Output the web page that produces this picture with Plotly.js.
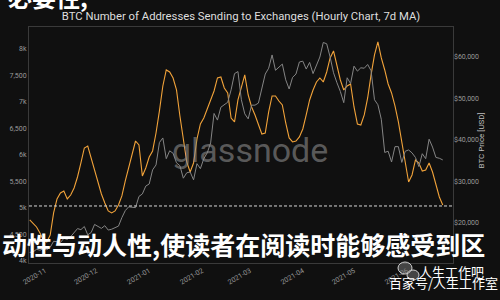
<!DOCTYPE html>
<html>
<head>
<meta charset="utf-8">
<script src="https://cdn.plot.ly/plotly-3.0.1.min.js"></script>
<style>html,body{margin:0;padding:0;background:#101010;}#chart{width:500px;height:300px;}</style>
</head>
<body>
<div id="chart"></div>
<script>
const dates = ["2020-10-23","2020-10-25","2020-10-27","2020-10-29","2020-10-31","2020-11-02","2020-11-04","2020-11-06","2020-11-08","2020-11-10","2020-11-12","2020-11-14","2020-11-16","2020-11-18","2020-11-20","2020-11-22","2020-11-24","2020-11-26","2020-11-28","2020-11-30","2020-12-02","2020-12-04","2020-12-06","2020-12-08","2020-12-10","2020-12-12","2020-12-14","2020-12-16","2020-12-18","2020-12-20","2020-12-22","2020-12-24","2020-12-26","2020-12-28","2020-12-30","2021-01-01","2021-01-03","2021-01-05","2021-01-07","2021-01-09","2021-01-11","2021-01-13","2021-01-15","2021-01-17","2021-01-19","2021-01-21","2021-01-23","2021-01-25","2021-01-27","2021-01-29","2021-01-31","2021-02-02","2021-02-04","2021-02-06","2021-02-08","2021-02-10","2021-02-12","2021-02-14","2021-02-16","2021-02-18","2021-02-20","2021-02-22","2021-02-24","2021-02-26","2021-02-28","2021-03-02","2021-03-04","2021-03-06","2021-03-08","2021-03-10","2021-03-12","2021-03-14","2021-03-16","2021-03-18","2021-03-20","2021-03-22","2021-03-24","2021-03-26","2021-03-28","2021-03-30","2021-04-01","2021-04-03","2021-04-05","2021-04-07","2021-04-09","2021-04-11","2021-04-13","2021-04-15","2021-04-17","2021-04-19","2021-04-21","2021-04-23","2021-04-25","2021-04-27","2021-04-29","2021-05-01","2021-05-03","2021-05-05","2021-05-07","2021-05-09","2021-05-11","2021-05-13","2021-05-15","2021-05-17","2021-05-19","2021-05-21","2021-05-23","2021-05-25","2021-05-27","2021-05-29","2021-05-31","2021-06-02","2021-06-04","2021-06-06","2021-06-08","2021-06-10","2021-06-12","2021-06-14","2021-06-16","2021-06-18","2021-06-20","2021-06-22"];

const addresses = [4774,4717,4642,4528,4396,4359,4491,4906,5170,5283,5321,5170,5245,5378,5585,5849,6132,6170,5944,5698,5472,5264,5094,4944,4906,4944,5057,5227,5510,5774,6038,6264,6189,5604,5755,5962,6076,6415,6831,7302,7604,7566,7453,7227,6736,6283,5868,5679,5849,6302,6585,6698,6868,7038,7208,7453,7472,7265,7170,6698,6623,7038,7302,7510,7132,6906,6755,6585,6396,6415,6812,7114,7114,7019,6944,6604,6321,6246,6264,6340,6491,6755,7038,7227,7378,7453,7378,7566,7831,7963,7699,7415,7227,7302,7340,6906,6585,6566,6755,7076,7510,7887,8133,7831,7604,7340,7170,6925,6623,6264,5887,5491,5623,5906,5849,5698,5717,5849,5679,5453,5208,5057];

const btcPrice = [12900,13050,13650,13450,13800,13550,14150,15600,15480,15300,16300,16050,16700,17800,18650,18400,19150,17150,17700,19650,19200,18700,19350,18300,18500,18800,19250,21300,23000,23900,23800,23700,26400,27000,28900,29400,32800,34000,39400,40500,35500,37400,36800,34500,33800,30800,32100,32300,30400,34300,33100,35500,36900,39300,46400,44800,47900,48600,49100,52100,56000,56500,49700,46300,45100,48400,48400,48900,52300,55900,57300,60500,56800,57600,58300,54500,52300,55100,55900,58800,59000,57100,58700,56000,58100,60000,63500,63200,60000,56200,53800,51700,49000,55000,53600,57800,56600,57400,57300,58200,56700,49700,48500,45000,37000,37300,34700,38400,38400,34600,37300,37600,36900,35800,33600,36700,35500,40200,38300,35800,35600,35200];

const leftTickVals = [4000,4500,5000,5500,6000,6500,7000,7500,8000];
const leftTickText = ["4k","4,500","5k","5,500","6k","6,500","7k","7,500","8k"];
const rightTickVals = [20000,30000,40000,50000,60000];
const rightTickText = ["$20,000","$30,000","$40,000","$50,000","$60,000"];
const referenceLevel = 5038;

const titleText = "BTC Number of Addresses Sending to Exchanges (Hourly Chart, 7d MA)";
const rightTitle = "BTC Price [USD]";
const overlayTop = "必要性,";
const overlayBottom = "动性与动人性,使读者在阅读时能够感受到区";
const brandLine1 = "人生工作吧";
const brandLine2 = "百家号/人生工作室";

const traces = [
  {x: dates, y: btcPrice, yaxis: 'y2', type: 'scatter', mode: 'lines',
   line: {color: '#858585', width: 1}, hoverinfo: 'skip'},
  {x: dates, y: addresses, yaxis: 'y', type: 'scatter', mode: 'lines',
   line: {color: '#f2a33a', width: 1.1}, hoverinfo: 'skip'}
];

const font = 'Roboto, "Noto Sans", sans-serif';
const cjk = '"Noto Sans CJK SC", sans-serif';

const layout = {
  width: 500, height: 300,
  margin: {l: 29, r: 47, t: 27, b: 37},
  paper_bgcolor: '#101010', plot_bgcolor: '#101010',
  showlegend: false,
  font: {family: font, color: '#9a9a9a', size: 7},
  title: {text: titleText, x: 0.5, xref: 'paper', y: 0.947, yanchor: 'middle',
          font: {family: font, size: 11.3, color: '#dedede'}},
  xaxis: {type: 'date', range: ['2020-10-22 14:00', '2021-06-28'],
          dtick: 'M1', tick0: '2020-11-01', tickformat: '%Y-%m', tickangle: -30,
          showgrid: false, zeroline: false, showline: true, mirror: true,
          linecolor: '#3a3a3a', linewidth: 1, ticks: '',
          tickfont: {size: 7, color: '#9a9a9a'}},
  yaxis: {range: [3962, 8415], tickvals: leftTickVals, ticktext: leftTickText,
          showgrid: false, zeroline: false, showline: true, mirror: true,
          linecolor: '#3a3a3a', linewidth: 1, ticks: '',
          tickfont: {size: 7, color: '#9a9a9a'}},
  yaxis2: {range: [10360, 67236], overlaying: 'y', side: 'right',
           tickvals: rightTickVals, ticktext: rightTickText,
           showgrid: false, zeroline: false, showline: false, ticks: '',
           tickfont: {size: 7, color: '#9a9a9a'}},
  shapes: [
    {type: 'line', xref: 'paper', x0: 0, x1: 1, yref: 'y', y0: referenceLevel, y1: referenceLevel,
     line: {color: '#d8d8d8', width: 1, dash: '3px,2px'}},
    {type: 'circle', xref: 'paper', yref: 'paper', xsizemode: 'pixel', ysizemode: 'pixel',
     xanchor: (405-29)/424, yanchor: (263-268)/236, x0: -7, x1: 7, y0: -6, y1: 6,
     line: {color: '#cfcfcf', width: 1}, fillcolor: 'rgba(120,120,120,0.5)'},
    {type: 'circle', xref: 'paper', yref: 'paper', xsizemode: 'pixel', ysizemode: 'pixel',
     xanchor: (413-29)/424, yanchor: (263-275)/236, x0: -6, x1: 6, y0: -5, y1: 5,
     line: {color: '#cfcfcf', width: 1}, fillcolor: 'rgba(120,120,120,0.5)'}
  ],
  annotations: [
    {text: rightTitle, xref: 'paper', yref: 'paper', x: (487-29)/424, y: (263-141)/236,
     textangle: -90, showarrow: false, font: {family: font, size: 8, color: '#bdbdbd'}},
    {text: 'glassnode', xref: 'paper', yref: 'paper', x: (250-29)/424, y: (263-150)/236,
     showarrow: false, font: {family: font, size: 34, color: 'rgba(140,140,140,0.6)'}},
    {text: '<b>' + overlayTop + '</b>', xref: 'paper', yref: 'paper', x: (6-29)/424, y: (263+3)/236,
     xanchor: 'left', yanchor: 'middle', showarrow: false,
     font: {family: cjk, size: 24, color: '#ffffff'}},
    {text: '<b>' + overlayBottom + '</b>', xref: 'paper', yref: 'paper', x: (0-29)/424, y: (263-243.5)/236,
     xanchor: 'left', yanchor: 'middle', showarrow: false,
     font: {family: cjk, size: 25, color: '#ffffff'}},
    {text: brandLine1, xref: 'paper', yref: 'paper', x: (417-29)/424, y: (263-271)/236,
     xanchor: 'left', yanchor: 'middle', showarrow: false,
     font: {family: cjk, size: 13, color: '#ffffff'}},
    {text: brandLine2, xref: 'paper', yref: 'paper', x: (387-29)/424, y: (263-282.5)/236,
     xanchor: 'left', yanchor: 'middle', showarrow: false,
     font: {family: cjk, size: 13, color: '#ffffff'}}
  ]
};

Plotly.newPlot('chart', traces, layout, {staticPlot: true, displayModeBar: false});
</script>
</body>
</html>
